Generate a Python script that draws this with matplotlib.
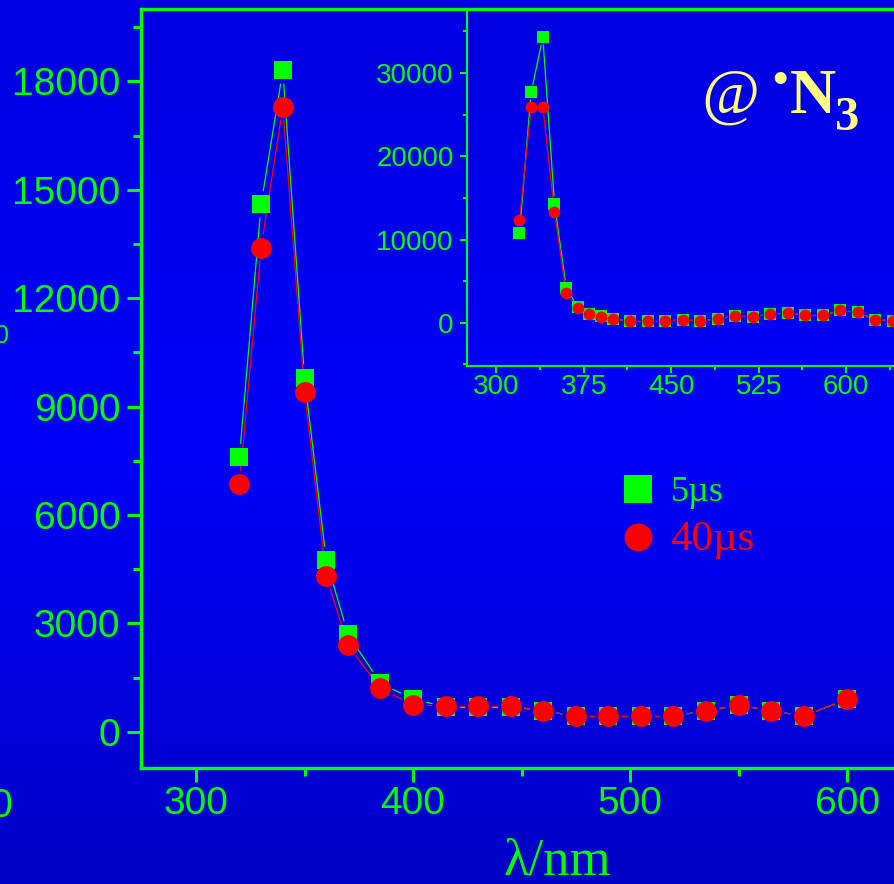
import numpy as np
import matplotlib
matplotlib.use("Agg")
import matplotlib.pyplot as plt
from matplotlib.lines import Line2D
from matplotlib.ticker import MultipleLocator

plt.rcParams['font.family'] = 'Liberation Sans'

GREEN = '#00FF00'
RED = '#FF0000'
YELLOW = '#FFFF80'

# main panel: transient spectra after 5 us and 40 us
wl = [320, 330, 340, 350, 360, 370, 385, 400, 415, 430, 445, 460, 475,
      490, 505, 520, 535, 550, 565, 580, 600]
abs_5us = [7600, 14600, 18300, 9800, 4750, 2700, 1350, 900, 700, 700, 700,
           580, 440, 440, 440, 440, 580, 740, 580, 440, 900]
abs_40us = [6850, 13400, 17300, 9400, 4300, 2400, 1200, 750, 720, 720, 720,
            580, 440, 440, 440, 440, 580, 740, 580, 440, 900]

# inset: wider scan
wl_in = [320, 330, 340, 350, 360, 370, 380, 390, 400, 415, 430, 445, 460,
         475, 490, 505, 520, 535, 550, 565, 580, 595, 610, 625, 640]
abs_in_5us = [10800, 27700, 34300, 14300, 4230, 1880, 1040, 750, 440, 240,
              240, 240, 360, 240, 480, 800, 720, 1040, 1160, 880, 880, 1470,
              1240, 360, 240]
abs_in_40us = [12400, 25900, 25900, 13300, 3550, 1710, 1040, 680, 440, 240,
               240, 240, 360, 240, 480, 800, 720, 1040, 1160, 880, 880, 1470,
               1240, 360, 240]

W, H = 895, 884
fig = plt.figure(figsize=(W / 100, H / 100), dpi=100)

# blue gradient backdrop
bg = fig.add_axes([0, 0, 1, 1], zorder=-10)
rows = np.linspace(0, 1, 400)
blue = np.interp(rows, [0, 0.5, 1.0], [224, 250, 198]) / 255
img = np.zeros((400, 1, 3))
img[:, 0, 2] = blue
bg.imshow(img, aspect='auto', extent=[0, 1, 0, 1], interpolation='bilinear')
bg.axis('off')


def px_box(left, top, right, bottom):
    return [left / W, 1 - bottom / H, (right - left) / W, (bottom - top) / H]


def gapped_line(ax, x, y, color, gap, lw):
    # Origin-style line that stops short of each symbol
    pts = ax.transData.transform(np.column_stack([x, y]))
    inv = ax.transData.inverted()
    for p0, p1 in zip(pts[:-1], pts[1:]):
        d = p1 - p0
        L = np.hypot(*d)
        if L <= 2 * gap:
            continue
        u = d / L
        seg = inv.transform(np.array([p0 + u * gap, p1 - u * gap]))
        ax.plot(seg[:, 0], seg[:, 1], color=color, lw=lw, zorder=2)


def style_axes(ax, spine_w, tick_w, maj, mnr, size, pad_x, pad_y):
    ax.set_facecolor('none')
    for s in ax.spines.values():
        s.set_color(GREEN)
        s.set_linewidth(spine_w)
    ax.tick_params(which='both', colors=GREEN, width=tick_w, direction='out')
    ax.tick_params(which='major', length=maj, labelsize=size)
    ax.tick_params(which='minor', length=mnr)
    ax.tick_params(axis='x', pad=pad_x)
    ax.tick_params(axis='y', pad=pad_y)


# ---- main axes
ax = fig.add_axes(px_box(141, 9, 973, 768))
ax.set_xlim(274.65, 658)
ax.set_ylim(-1000, 20000)
style_axes(ax, 2.4, 2.2, 10, 5.5, 28, 3, 5)
ax.xaxis.set_major_locator(MultipleLocator(100))
ax.xaxis.set_minor_locator(MultipleLocator(50))
ax.yaxis.set_major_locator(MultipleLocator(3000))
ax.yaxis.set_minor_locator(MultipleLocator(1500))
ax.xaxis.set_ticks_position('bottom')
ax.yaxis.set_ticks_position('left')
ax.set_xlabel('λ/nm', family='Liberation Serif', fontsize=38, color=GREEN,
              labelpad=11)

gapped_line(ax, wl, abs_5us, GREEN, 14, 0.9)
ax.plot(wl, abs_5us, 's', color=GREEN, ms=13.5, mew=0, zorder=3)
gapped_line(ax, wl, abs_40us, RED, 14, 0.9)
ax.plot(wl, abs_40us, 'o', color=RED, ms=15, mew=0, zorder=4)

handles = [Line2D([], [], marker='s', ls='none', color=GREEN, ms=20, mew=0),
           Line2D([], [], marker='o', ls='none', color=RED, ms=20, mew=0)]
leg = ax.legend(handles, ['5µs', '40µs'], frameon=False,
                loc='upper left', bbox_to_anchor=(620 / W, 1 - 476 / H),
                bbox_transform=fig.transFigure, borderpad=0,
                borderaxespad=0, handlelength=1.0, handletextpad=0.4,
                labelspacing=0.3, prop={'family': 'Liberation Serif',
                                        'size': 26})
leg.get_texts()[0].set_color(GREEN)
leg.get_texts()[1].set_color(RED)
leg.get_texts()[1].set_fontsize(31)

# ---- inset
ins = fig.add_axes(px_box(467, 9, 904.5, 366))
ins.set_xlim(275, 650)
ins.set_ylim(-5200, 37700)
style_axes(ins, 1.5, 1.4, 5, 3, 20, 1, 4.5)
ins.xaxis.set_major_locator(MultipleLocator(75))
ins.xaxis.set_minor_locator(MultipleLocator(37.5))
ins.yaxis.set_major_locator(MultipleLocator(10000))
ins.yaxis.set_minor_locator(MultipleLocator(5000))
ins.xaxis.set_ticks_position('bottom')
ins.yaxis.set_ticks_position('left')

gapped_line(ins, wl_in, abs_in_5us, GREEN, 8, 0.9)
ins.plot(wl_in, abs_in_5us, 's', color=GREEN, ms=8, mew=0, zorder=3)
gapped_line(ins, wl_in, abs_in_40us, RED, 8, 0.9)
ins.plot(wl_in, abs_in_40us, 'o', color=RED, ms=8.5, mew=0, zorder=4)

# radical label
fig.text(701 / W, 1 - 113 / H, '@', family='Liberation Serif',
         style='italic', fontsize=45, color=YELLOW, va='baseline')
fig.text(780 / W, 1 - 83 / H, '•', family='Liberation Serif',
         fontsize=36, color=YELLOW, ha='center', va='center')
fig.text(790 / W, 1 - 113 / H, 'N', family='Liberation Serif',
         weight='bold', fontsize=46, color=YELLOW, va='baseline')
fig.text(835 / W, 1 - 130 / H, '3', family='Liberation Serif',
         weight='bold', fontsize=35, color=YELLOW, va='baseline')

# edges of the neighbouring panel
fig.text(8.5 / W, 1 - 343 / H, '0', fontsize=18, color=GREEN,
         ha='right', va='baseline')
fig.text(12.5 / W, 1 - 817 / H, '600', fontsize=28.5, color=GREEN,
         ha='right', va='baseline')

fig.savefig('out.png', dpi=100)
